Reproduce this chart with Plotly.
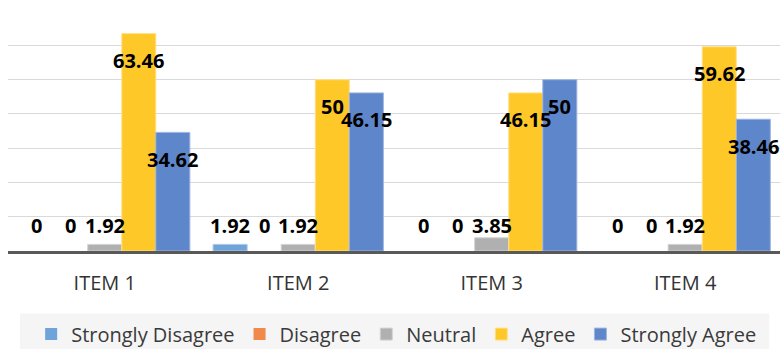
import plotly.graph_objects as go

# Survey responses (%) per item
items = ["ITEM 1", "ITEM 2", "ITEM 3", "ITEM 4"]
strongly_disagree = [0, 1.92, 0, 0]
disagree = [0, 0, 0, 0]
neutral = [1.92, 1.92, 3.85, 1.92]
agree = [63.46, 50, 46.15, 59.62]
strongly_agree = [34.62, 46.15, 50, 38.46]

series_names = ["Strongly Disagree", "Disagree", "Neutral", "Agree", "Strongly Agree"]
series_values = [strongly_disagree, disagree, neutral, agree, strongly_agree]
fill_colors = ["#6FA3D9", "#F0894A", "#B0B0B0", "#FFC829", "#5E86CB"]
edge_colors = ["#A9C9EA", "#F6B58D", "#D2D2D2", "#FFE08A", "#9DB5E0"]

BAR_GAP = 0.12
FONT = "Open Sans"

fig = go.Figure()
for name, vals, fc, ec in zip(series_names, series_values, fill_colors, edge_colors):
    fig.add_trace(go.Bar(
        x=items, y=vals, name=name,
        # no outline on empty bars so they stay invisible
        marker=dict(color=fc, line=dict(color=ec, width=[1 if v else 0 for v in vals])),
        hoverinfo="x+y+name",
    ))

# Value labels, one per bar, centred over each bar slot
n = len(series_names)
slot = (1 - BAR_GAP) / n
annotations = []
for k, vals in enumerate(series_values):
    for i, v in enumerate(vals):
        annotations.append(dict(
            x=i + (k - (n - 1) / 2) * slot, y=max(v, 15.3),
            xref="x", yref="y", text=f"{v:g}", showarrow=False,
            yanchor="middle", yshift=-27,
            font=dict(family=FONT, size=20, color="#000000", weight="bold"),
        ))

fig.update_layout(
    width=780, height=349,
    margin=dict(l=8, r=0, t=11, b=98, autoexpand=False),
    paper_bgcolor="white", plot_bgcolor="white",
    barmode="group", bargap=BAR_GAP, bargroupgap=0,
    font=dict(family=FONT, size=20, color="#3A3A3A"),
    annotations=annotations,
    showlegend=True,
    legend=dict(
        orientation="h", x=0.03, xanchor="left", y=-0.265, yanchor="top",
        bgcolor="rgba(0,0,0,0)", font=dict(family=FONT, size=20, color="#3A3A3A"),
        traceorder="normal",
    ),
    shapes=[dict(
        type="rect", xref="paper", yref="paper",
        x0=0.0155, x1=0.986, y0=-0.41, y1=-0.26,
        fillcolor="#F5F5F5", line=dict(width=0), layer="below",
    )],
)
fig.update_xaxes(
    type="category", range=[-0.5, 3.49],
    showline=True, linecolor="#595959", linewidth=3,
    showgrid=False, ticks="", ticklabelstandoff=12,
    tickfont=dict(family=FONT, size=20, color="#333333"),
)
fig.update_yaxes(
    range=[0, 70.05], dtick=10, showticklabels=False,
    showgrid=True, gridcolor="#D9D9D9", gridwidth=1.3,
    zeroline=False, showline=False,
)

fig.write_html("out.html")
